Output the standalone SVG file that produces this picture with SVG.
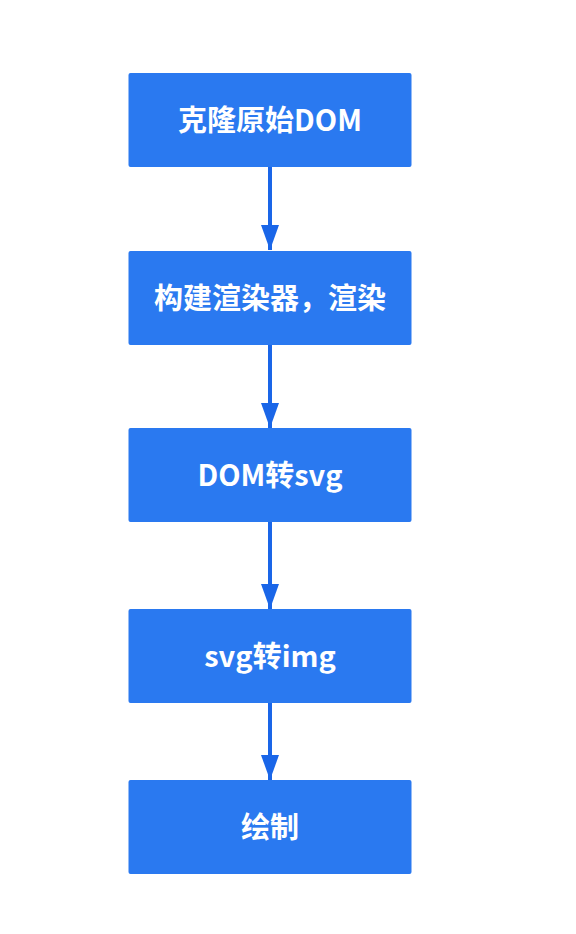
<svg xmlns="http://www.w3.org/2000/svg" width="576" height="934" viewBox="0 0 576 934">
<style>
.box{fill:#2A79F0;}
.lbl{fill:#ffffff;font-family:"Noto Sans CJK SC","Noto Sans",sans-serif;font-size:29px;font-weight:bold;text-anchor:middle;dominant-baseline:central;}
.edge{stroke:#1A66E8;stroke-width:4;fill:none;}
</style>
<defs>
<marker id="ah" markerUnits="userSpaceOnUse" markerWidth="25" markerHeight="18" refX="25" refY="9" orient="auto" viewBox="0 0 25 18">
<path d="M0,0 L25,9 L0,18 z" fill="#1A66E8"/>
</marker>
</defs>
<rect width="576" height="934" fill="#ffffff"/>
<g id="connectors">
<line class="edge" x1="270" y1="167" x2="270" y2="250" marker-end="url(#ah)"/>
<line class="edge" x1="270" y1="345" x2="270" y2="428" marker-end="url(#ah)"/>
<line class="edge" x1="270" y1="522" x2="270" y2="609" marker-end="url(#ah)"/>
<line class="edge" x1="270" y1="703" x2="270" y2="780" marker-end="url(#ah)"/>
</g>
<g id="n1"><rect class="box" x="128.5" y="73" width="283" height="94" rx="2"/><text class="lbl" x="270" y="118">克隆原始DOM</text></g>
<g id="n2"><rect class="box" x="128.5" y="251" width="283" height="94" rx="2"/><text class="lbl" x="270" y="296">构建渲染器，渲染</text></g>
<g id="n3"><rect class="box" x="128.5" y="428" width="283" height="94" rx="2"/><text class="lbl" x="270" y="473">DOM转svg</text></g>
<g id="n4"><rect class="box" x="128.5" y="609" width="283" height="94" rx="2"/><text class="lbl" x="270" y="654">svg转img</text></g>
<g id="n5"><rect class="box" x="128.5" y="780" width="283" height="94" rx="2"/><text class="lbl" x="270" y="825">绘制</text></g>
</svg>
